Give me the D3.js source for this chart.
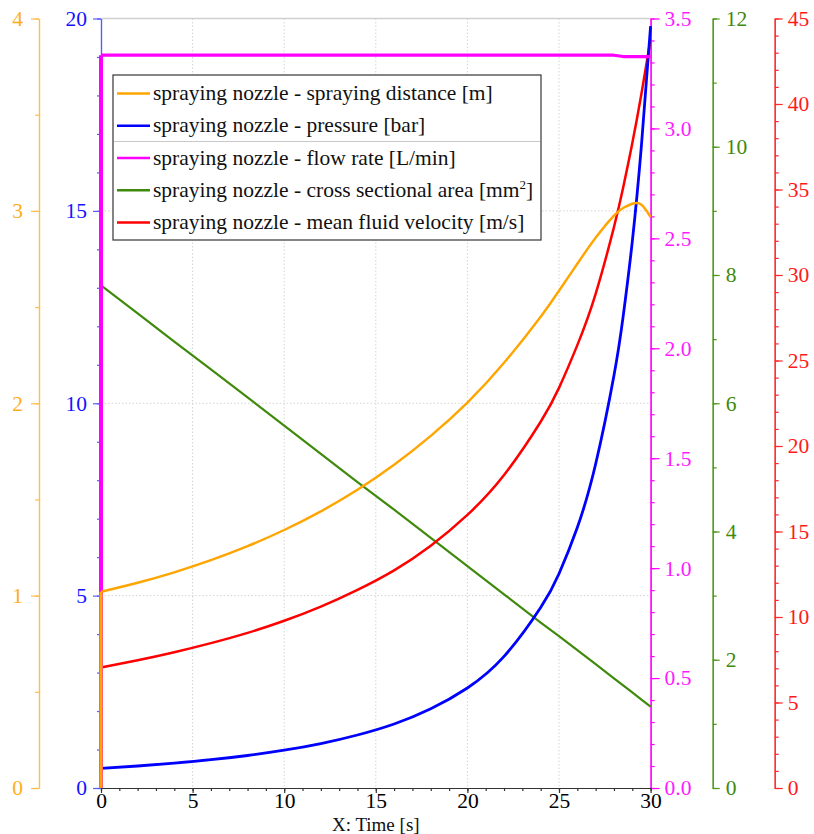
<!DOCTYPE html>
<html>
<head>
<meta charset="utf-8">
<script src="https://cdn.jsdelivr.net/npm/d3@7/dist/d3.min.js"></script>
<style>
body{margin:0;background:#ffffff;}
svg text{font-family:"Liberation Serif","Times New Roman",serif;}
</style>
</head>
<body>
<svg id="nozzlegraph"></svg>
<script>

//time points the curves were read at (s)
var times = [0,2,4,6,8,10,12,14,16,18,20,22,24,25,26,27,28,28.5,29,29.5,30];

//values, one per time point
var distance = [1.02,1.067,1.121,1.184,1.257,1.341,1.438,1.55,1.68,1.83,2.003,2.21,2.45,2.585,2.725,2.86,2.975,3.015,3.037,3.032,2.968];
var pressure = [0.51,0.572,0.647,0.735,0.845,0.982,1.155,1.378,1.664,2.06,2.6,3.42,4.69,5.57,6.77,8.42,10.72,12.25,14.2,16.7,19.8];
var flowRate = [3.333,3.333,3.333,3.333,3.333,3.333,3.333,3.333,3.333,3.333,3.333,3.333,3.333,3.333,3.333,3.333,3.333,3.327,3.327,3.327,3.327];
var crossArea = [7.84,7.40,6.96,6.53,6.09,5.65,5.21,4.77,4.34,3.90,3.46,3.02,2.58,2.37,2.15,1.93,1.71,1.60,1.49,1.38,1.27];
var velocity = [7.05,7.47,7.94,8.47,9.07,9.78,10.61,11.59,12.73,14.17,15.97,18.3,21.42,23.4,25.9,28.9,32.8,35.1,37.7,40.6,43.8];

//every curve jumps up from this value at t = 0
var startValue = 0;

//tick labels
var timeTicks = [0,5,10,15,20,25,30];
var distanceTicks = [0,1,2,3,4];
var pressureTicks = [0,5,10,15,20];
var flowTicks = [0,0.5,1.0,1.5,2.0,2.5,3.0,3.5];
var areaTicks = [0,2,4,6,8,10,12];
var velocityTicks = [0,5,10,15,20,25,30,35,40,45];

var legendNames = [
    "spraying nozzle - spraying distance [m]",
    "spraying nozzle - pressure [bar]",
    "spraying nozzle - flow rate [L/min]",
    "spraying nozzle - cross sectional area [mm",
    "spraying nozzle - mean fluid velocity [m/s]"
];

var serif = "'Liberation Serif','Times New Roman',serif";

var makeTranslateString = function(x,y)
{
    return "translate("+x+","+y+")";
}

//one y axis: major ticks with labels, minor ticks without
var drawYAxis = function(target,spec)
{
    var make = spec.side=="left" ? d3.axisLeft : d3.axisRight;
    var axisG = target.append("g")
        .attr("transform",makeTranslateString(spec.x,0));

    axisG.append("g")
        .call(make(spec.scale).tickValues(spec.minor).tickSize(4).tickSizeOuter(0).tickFormat(""));
    axisG.append("g")
        .call(make(spec.scale).tickValues(spec.major).tickSize(spec.len).tickSizeOuter(0)
              .tickPadding(spec.pad).tickFormat(spec.format));

    axisG.selectAll("path, line")
        .attr("stroke",spec.color)
        .attr("stroke-width",1.2);
    axisG.selectAll("text")
        .attr("fill",spec.textColor)
        .style("font-family",serif)
        .style("font-size","21.5px");
}

var drawXAxis = function(target,graph,xScale)
{
    var axisG = target.append("g")
        .attr("transform",makeTranslateString(0,graph.height));

    axisG.append("g")
        .call(d3.axisBottom(xScale).tickValues(d3.range(0,31,1)).tickSize(3).tickSizeOuter(0).tickFormat(""));
    axisG.append("g")
        .call(d3.axisBottom(xScale).tickValues(timeTicks).tickSize(5).tickSizeOuter(0).tickPadding(0));

    axisG.selectAll("path, line")
        .attr("stroke","#333333")
        .attr("stroke-width",1.2);
    axisG.selectAll("text")
        .attr("fill","#000000")
        .style("font-family",serif)
        .style("font-size","21.5px");
}

var drawGrid = function(target,graph,xScale,yScale)
{
    var grid = target.append("g").classed("grid",true);

    grid.selectAll("line.vgrid")
        .data([5,10,15,20,25])
        .enter()
        .append("line")
        .attr("x1",function(d){return xScale(d)})
        .attr("x2",function(d){return xScale(d)})
        .attr("y1",0)
        .attr("y2",graph.height)
        .attr("stroke","#d4d4d4")
        .attr("stroke-dasharray","1.5,2");

    grid.selectAll("line.hgrid")
        .data([5,10,15])
        .enter()
        .append("line")
        .attr("x1",0)
        .attr("x2",graph.width)
        .attr("y1",function(d){return yScale(d)})
        .attr("y2",function(d){return yScale(d)})
        .attr("stroke","#d4d4d4")
        .attr("stroke-dasharray","1.5,2");

    //frame line on top
    grid.append("line")
        .attr("x1",0)
        .attr("x2",graph.width)
        .attr("y1",0)
        .attr("y2",0)
        .attr("stroke","#d0d0d0")
        .attr("stroke-width",1.5);
}

var drawSeries = function(target,series,xScale)
{
    var points = times.map(function(t,i){return {t:t,v:series.values[i]}});

    var line = d3.line()
        .x(function(d){return xScale(d.t)})
        .y(function(d){return series.scale(d.v)})
        .curve(series.curve);

    //the jump at t = 0
    target.append("line")
        .attr("x1",xScale(0))
        .attr("x2",xScale(0))
        .attr("y1",series.scale(startValue))
        .attr("y2",series.scale(series.values[0]))
        .attr("stroke",series.color)
        .attr("stroke-width",series.width+0.8);

    target.append("path")
        .datum(points)
        .attr("d",line)
        .attr("fill","none")
        .attr("stroke",series.color)
        .attr("stroke-width",series.width)
        .attr("stroke-linejoin","round");
}

var drawLegend = function(svg,colors)
{
    var legend = svg.append("g")
        .classed("legend",true)
        .attr("transform",makeTranslateString(113,75));

    legend.append("rect")
        .attr("width",428)
        .attr("height",165)
        .attr("fill","#ffffff")
        .attr("stroke","#444444")
        .attr("stroke-width",1.3);

    legend.append("line")
        .attr("x1",1)
        .attr("x2",427)
        .attr("y1",66.5)
        .attr("y2",66.5)
        .attr("stroke","#c8c8c8")
        .attr("stroke-width",1.2);

    var entries = legend.selectAll("g.entry")
        .data(legendNames)
        .enter()
        .append("g")
        .classed("entry",true)
        .attr("transform",function(d,i){return makeTranslateString(0,18.5+i*32.25)});

    entries.append("line")
        .attr("x1",4)
        .attr("x2",37)
        .attr("y1",0)
        .attr("y2",0)
        .attr("stroke",function(d,i){return colors[i]})
        .attr("stroke-width",2.5);

    var labels = entries.append("text")
        .attr("x",40)
        .attr("y",6.5)
        .style("font-family",serif)
        .style("font-size","21.5px")
        .attr("fill","#111111")
        .text(function(d){return d});

    //superscript and closing bracket for mm2
    var areaLabel = d3.select(labels.nodes()[3]);
    areaLabel.append("tspan").attr("dy",-8).style("font-size","13px").text("2");
    areaLabel.append("tspan").attr("dy",8).text("]");
}

var initGraph = function()
{
    var screen = {width:814,height:834};
    var margins = {left:101,right:163.4,top:18.5,bottom:46};
    var graph = {
        width:screen.width-margins.left-margins.right,
        height:screen.height-margins.top-margins.bottom
    };

    var svg = d3.select("#nozzlegraph")
        .attr("width",screen.width)
        .attr("height",screen.height);

    var target = svg.append("g")
        .attr("id","graph")
        .attr("transform",makeTranslateString(margins.left,margins.top));

    var xScale = d3.scaleLinear().domain([0,30]).range([0,graph.width]);
    var yDistance = d3.scaleLinear().domain([0,4]).range([graph.height,0]);
    var yPressure = d3.scaleLinear().domain([0,20]).range([graph.height,0]);
    var yFlow = d3.scaleLinear().domain([0,3.5]).range([graph.height,0]);
    var yArea = d3.scaleLinear().domain([0,12]).range([graph.height,0]);
    var yVelocity = d3.scaleLinear().domain([0,45]).range([graph.height,0]);

    var colors = ["#ffa500","#0000ff","#ff00ff","#3f8a0c","#ff0000"];

    drawGrid(target,graph,xScale,yPressure);

    drawYAxis(target,{scale:yDistance,x:-62,side:"left",major:distanceTicks,minor:d3.range(0,4.01,0.5),
        len:8,pad:8,format:d3.format("d"),color:"#ffbd4a",textColor:"#ffad1a"});
    drawYAxis(target,{scale:yPressure,x:0,side:"left",major:pressureTicks,minor:d3.range(0,20.01,1),
        len:8,pad:6,format:d3.format("d"),color:"#5a5aff",textColor:"#1414ff"});
    drawYAxis(target,{scale:yFlow,x:graph.width,side:"right",major:flowTicks,minor:d3.range(0,3.51,0.1),
        len:9,pad:5,format:d3.format(".1f"),color:"#ff00ff",textColor:"#ff1aff"});
    drawYAxis(target,{scale:yArea,x:611.7,side:"right",major:areaTicks,minor:d3.range(0,12.01,1),
        len:7,pad:6,format:d3.format("d"),color:"#4f9a1c",textColor:"#3f8a0c"});
    drawYAxis(target,{scale:yVelocity,x:673.7,side:"right",major:velocityTicks,minor:d3.range(0,45.01,1),
        len:8,pad:5,format:d3.format("d"),color:"#ff2a2a",textColor:"#ff1a1a"});

    drawXAxis(target,graph,xScale);

    //drawing order: green, red, blue, magenta, orange on top
    drawSeries(target,{values:crossArea,scale:yArea,color:colors[3],width:2.2,curve:d3.curveLinear},xScale);
    drawSeries(target,{values:velocity,scale:yVelocity,color:colors[4],width:2.5,curve:d3.curveNatural},xScale);
    drawSeries(target,{values:pressure,scale:yPressure,color:colors[1],width:2.8,curve:d3.curveNatural},xScale);
    drawSeries(target,{values:flowRate,scale:yFlow,color:colors[2],width:3.2,curve:d3.curveLinear},xScale);
    drawSeries(target,{values:distance,scale:yDistance,color:colors[0],width:2.4,curve:d3.curveNatural},xScale);

    svg.append("text")
        .text("X: Time [s]")
        .attr("text-anchor","middle")
        .attr("x",margins.left+graph.width/2)
        .attr("y",831)
        .style("font-family",serif)
        .style("font-size","19px")
        .attr("fill","#111111");

    drawLegend(svg,colors);
}

initGraph();
</script>
</body>
</html>
